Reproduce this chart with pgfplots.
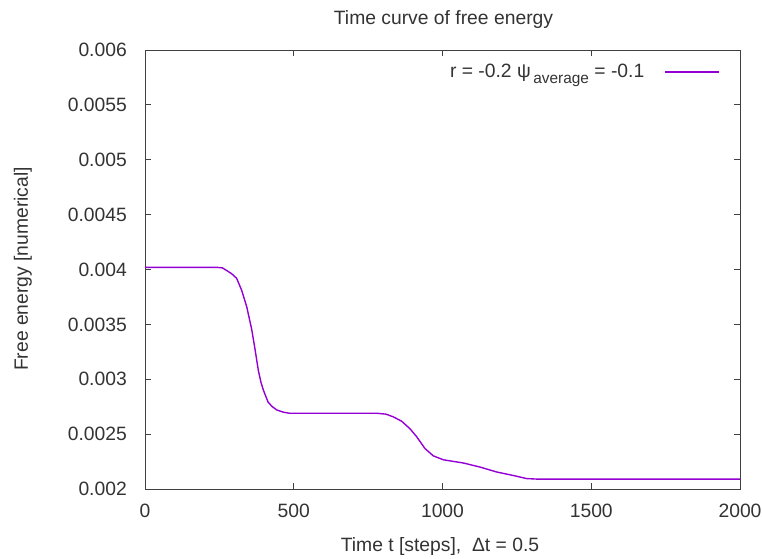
\documentclass[border=0pt]{standalone}
\usepackage{fontspec}
\setmainfont{Liberation Sans}
\usepackage{pgfplots}
\pgfplotsset{compat=1.18}
\definecolor{curve}{HTML}{9400D3}
\definecolor{frame}{HTML}{404040}
\definecolor{txt}{HTML}{333333}

% free energy F(t) of the phase-field run
\pgfplotstableread{
t F
0 0.00402
240 0.00402
260 0.004015
275 0.00399
292 0.00396
308 0.00392
325 0.00381
342 0.00366
359 0.00345
370 0.00327
381 0.00308
390 0.00297
398 0.00290
414 0.00279
428 0.00275
443 0.00272
465 0.00270
487 0.00269
780 0.00269
810 0.002682
835 0.002657
863 0.002617
891 0.002548
913 0.002477
941 0.002369
969 0.002302
1003 0.002266
1070 0.002237
1126 0.00220
1182 0.002155
1238 0.002123
1283 0.002095
1320 0.00209
2000 0.00209
}\energy

\newcommand\lab{\fontsize{19.3}{22}\selectfont}

\begin{document}
\lab
\begin{tikzpicture}[x=1pt,y=1pt]
\useasboundingbox (0,0) rectangle (762,558);
\begin{axis}[
  at={(145pt,69pt)}, anchor=south west,
  width=595pt, height=439pt, scale only axis,
  xmin=0, xmax=2000, ymin=0.002, ymax=0.006,
  xtick={0,500,1000,1500,2000},
  xticklabels={0,500,1000,1500,2000},
  ytick={0.002,0.0025,0.003,0.0035,0.004,0.0045,0.005,0.0055,0.006},
  yticklabels={0.002,0.0025,0.003,0.0035,0.004,0.0045,0.005,0.0055,0.006},
  scaled y ticks=false, scaled x ticks=false,
  /pgf/number format/assume math mode=true,
  tick align=inside, major tick length=6pt,
  axis line style={frame, line width=1pt},
  tick style={frame, line width=1pt},
  tick label style={font=\lab, text=txt},
  xticklabel style={yshift=-8pt},
  yticklabel style={inner xsep=18pt},
  legend style={draw=none, fill=none, at={(1,1)}, anchor=north east,
    xshift=-17pt, yshift=-9.5pt, font=\lab, text=txt, column sep=18pt},
  legend plot pos=right,
  legend image code/.code={\draw[curve, line width=1.5pt] (0pt,0pt) -- (54pt,0pt);},
]
\addplot[curve, line width=1.4pt] table[x=t, y=F] {\energy};
\addlegendentry{r = -0.2 ψ\raisebox{-0.35em}{\fontsize{15.4}{17}\selectfont\,average} = -0.1}
\end{axis}
\node[anchor=base, text=txt] at (443.5,533) {Time curve of free energy};
\node[anchor=base, text=txt] at (440,6.5) {Time t [steps],\ \ Δt = 0.5};
\node[anchor=base, rotate=90, text=txt] at (28,289) {Free energy [numerical]};
\end{tikzpicture}
\end{document}
